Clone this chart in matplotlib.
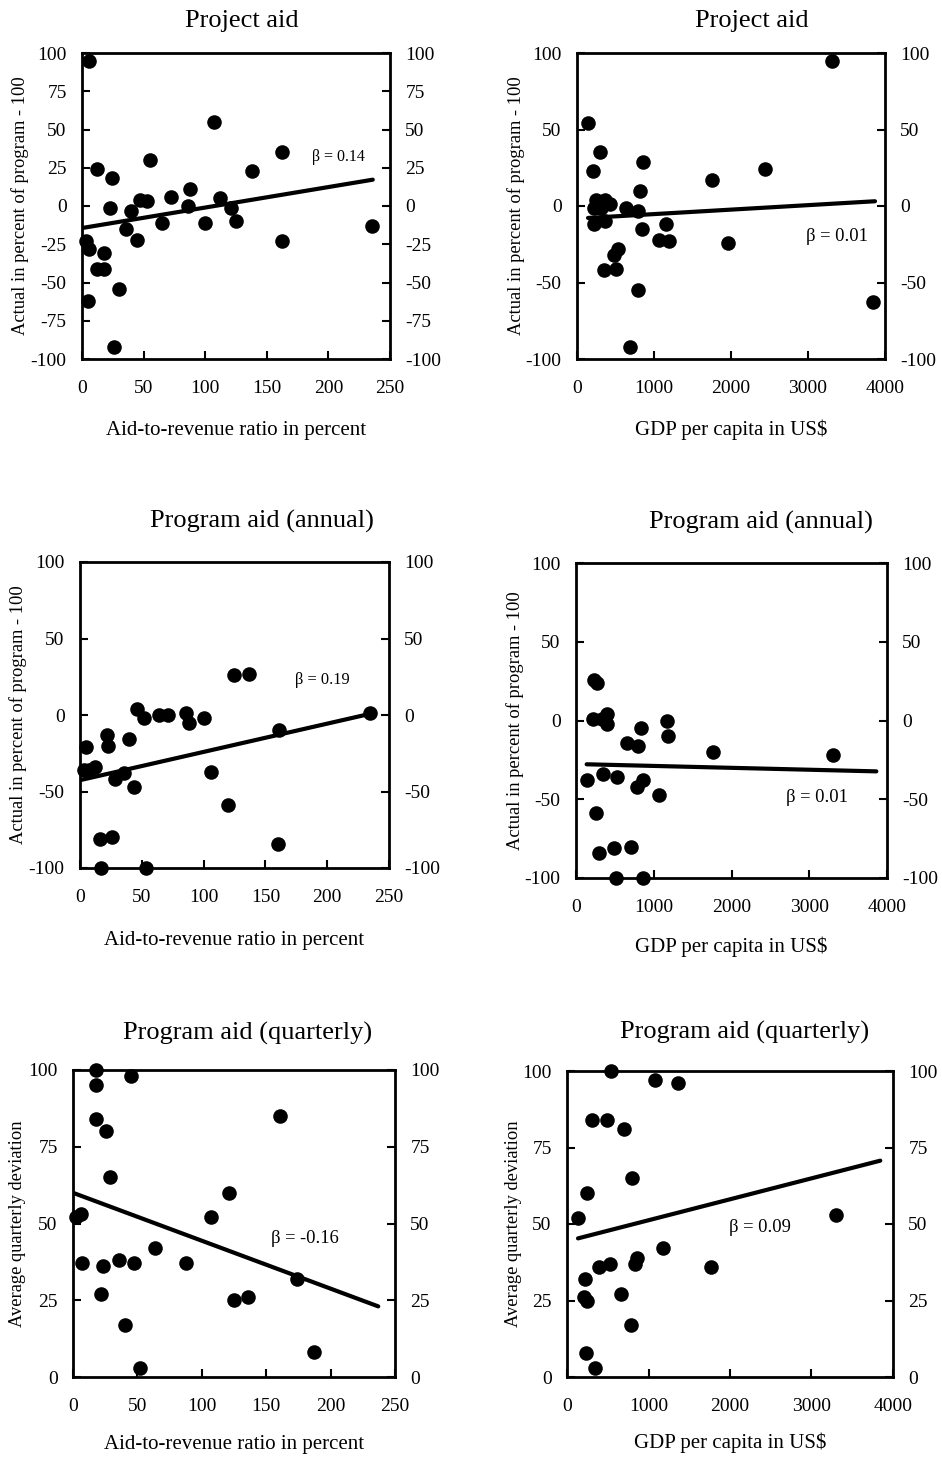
import matplotlib
matplotlib.use('Agg')
from matplotlib import pyplot as plt

plt.rcParams['font.family'] = ['Liberation Serif', 'DejaVu Serif']
plt.rcParams['axes.unicode_minus'] = False

# titles / labels
titles = ['Project aid', 'Project aid', 'Program aid (annual)', 'Program aid (annual)',
          'Program aid (quarterly)', 'Program aid (quarterly)']
xlabels = ['Aid-to-revenue ratio in percent', 'GDP per capita in US$'] * 3
ylabels = ['Actual in percent of program - 100'] * 4 + ['Average quarterly deviation'] * 2
betas = ['\u03b2 = 0.14', '\u03b2 = 0.01', '\u03b2 = 0.19', '\u03b2 = 0.01', '\u03b2 = -0.16', '\u03b2 = 0.09']
beta_pos = [(208, 32), (3372, -20), (196, 23), (3099, -49), (180, 45), (2369, 49)]

# scatter values
p1_x = [6, 162, 107, 55, 12, 24, 138, 88, 72, 47, 53, 112, 23, 86, 121, 40, 65, 100, 125, 235, 36, 45, 162, 3, 6, 18, 12, 18, 30, 5, 26]
p1_y = [95, 35, 55, 30, 24, 18, 23, 11, 6, 4, 3, 5, -1, 0, -1, -3, -11, -11, -10, -13, -15, -22, -23, -23, -28, -31, -41, -41, -54, -62, -92]
p2_x = [3310, 143, 303, 858, 208, 1759, 2444, 823, 243, 360, 425, 316, 221, 641, 793, 221, 360, 845, 1161, 1066, 1192, 1963, 533, 477, 351, 511, 793, 3840, 693]
p2_y = [95, 54, 35, 29, 23, 17, 24, 10, 4, 4, 1, -1, -1, -1, -3, -12, -10, -15, -12, -22, -23, -24, -28, -32, -42, -41, -55, -63, -92]
p3_x = [125, 137, 46, 52, 64, 71, 86, 88, 100, 235, 161, 22, 23, 40, 5, 3, 7, 12, 28, 36, 44, 106, 120, 16, 26, 160, 17, 53]
p3_y = [26, 27, 4, -2, 0, 0, 1, -5, -2, 1, -10, -13, -20, -16, -21, -36, -36, -34, -42, -38, -47, -37, -59, -81, -80, -84, -100, -100]
p4_x = [232, 275, 223, 330, 395, 395, 1176, 833, 652, 794, 1180, 1768, 3305, 146, 352, 524, 867, 781, 1069, 253, 296, 489, 704, 515, 867]
p4_y = [26, 24, 1, 1, 4, -2, 0, -5, -14, -16, -10, -20, -22, -38, -34, -36, -38, -42, -47, -59, -84, -81, -80, -100, -100]
p5_x = [18, 18, 45, 18, 26, 161, 29, 121, 107, 6, 2, 7, 23, 36, 47, 64, 88, 22, 125, 136, 174, 40, 187, 52]
p5_y = [100, 95, 98, 84, 80, 85, 65, 60, 52, 53, 52, 37, 36, 38, 37, 42, 37, 27, 25, 26, 32, 17, 8, 3]
p6_x = [537, 1082, 1365, 307, 496, 697, 795, 246, 139, 3303, 1172, 865, 840, 393, 533, 1762, 217, 209, 246, 660, 783, 238, 344]
p6_y = [100, 97, 96, 84, 84, 81, 65, 60, 52, 53, 42, 39, 37, 36, 37, 36, 32, 26, 25, 27, 17, 8, 3]

# fitted lines (end points)
line_x = [(0, 236), (143, 3870), (0, 236), (137, 3863), (0, 237), (135, 3844)]
line_y = [(-14.4, 17.2), (-7.8, 3.1), (-42.6, 1.0), (-27.8, -32.3), (60.0, 23.0), (45.3, 70.7)]

xs = [p1_x, p2_x, p3_x, p4_x, p5_x, p6_x]
ys = [p1_y, p2_y, p3_y, p4_y, p5_y, p6_y]

xlims = [(0, 250), (0, 4000)] * 3
xticks = [[0, 50, 100, 150, 200, 250], [0, 1000, 2000, 3000, 4000]] * 3
ylims = [(-100, 100)] * 4 + [(0, 100)] * 2
yticks = [[-100, -75, -50, -25, 0, 25, 50, 75, 100],
          [-100, -50, 0, 50, 100], [-100, -50, 0, 50, 100], [-100, -50, 0, 50, 100],
          [0, 25, 50, 75, 100], [0, 25, 50, 75, 100]]

W, H = 942, 1463
# axes boxes in pixels: left, top, right, bottom
boxes = [(82, 53, 390, 359), (577, 53, 885, 359),
         (80, 562, 389, 868), (576, 563, 887, 878),
         (73, 1070, 395, 1377), (567, 1071, 893, 1377)]
title_x = [0.52, 0.568, 0.589, 0.595, 0.541, 0.545]
title_pad = [19, 19, 25, 25, 22, 23]
beta_size = [11.5, 13.3, 11.8, 13.3, 13.3, 13.3]
ylab_off = [62, 61, 62, 61, 56, 54]
xlab_off = [71, 71, 72, 69, 67, 66]

fig = plt.figure(figsize=(W / 100, H / 100), dpi=100)

for i in range(6):
    l, t, r, b = boxes[i]
    ax = fig.add_axes([l / W, 1 - b / H, (r - l) / W, (b - t) / H])
    ax.scatter(xs[i], ys[i], s=110, color='black', zorder=3, clip_on=False, linewidths=0)
    ax.plot(line_x[i], line_y[i], color='black', lw=3, solid_capstyle='round', zorder=2)
    ax.text(beta_pos[i][0], beta_pos[i][1], betas[i], fontsize=beta_size[i], ha='center', va='center')

    ax.set_xlim(*xlims[i])
    ax.set_ylim(*ylims[i])
    ax.set_xticks(xticks[i])
    ax.set_yticks(yticks[i])
    ax.tick_params(axis='y', direction='in', length=6, width=1.5, left=True, right=True,
                   labelleft=True, labelright=True, labelsize=14, pad=11)
    ax.tick_params(axis='x', direction='in', length=6, width=1.5, top=False,
                   labelsize=14, pad=15)
    for s in ax.spines.values():
        s.set_linewidth(2)

    ax.set_title(titles[i], fontsize=19, x=title_x[i], pad=title_pad[i])
    ax.set_xlabel(xlabels[i], fontsize=15, va='center')
    ax.xaxis.set_label_coords(0.5, -xlab_off[i] / (b - t))
    ax.set_ylabel(ylabels[i], fontsize=13.3, va='center')
    ax.yaxis.set_label_coords(-ylab_off[i] / (r - l), 0.5)

plt.savefig('out.png', dpi=100)
